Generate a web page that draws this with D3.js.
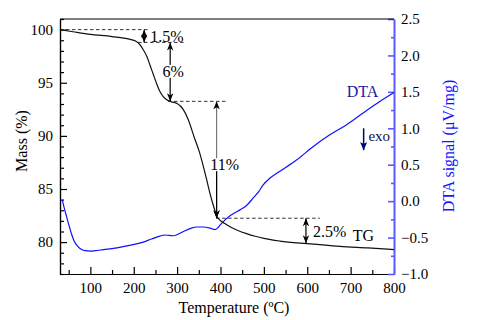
<!DOCTYPE html>
<html>
<head>
<meta charset="utf-8">
<script src="https://cdn.jsdelivr.net/npm/d3@7"></script>
<style>
  body { margin: 0; background: #fff; }
  svg { display: block; }
  svg text { font-family: "Liberation Serif", "Times New Roman", "DejaVu Serif", serif; }
</style>
</head>
<body>
<div id="chart"></div>
<script>
// TG curve (mass %) vs temperature
const tgTemp = [30, 60, 100, 150, 190, 205, 214, 222, 230, 238, 245, 252, 260, 268, 276, 287, 300, 314, 326, 340, 352, 360, 368, 375, 381, 387, 392, 398, 410, 422, 440, 460, 480, 500, 537, 600, 675, 740, 800];
const tgMass = [100, 99.8, 99.55, 99.35, 99.1, 98.9, 98.6, 98.1, 97.5, 96.6, 95.8, 95.0, 94.2, 93.7, 93.4, 93.2, 93.05, 92.5, 91.5, 89.8, 88.4, 87.2, 85.9, 84.7, 83.8, 83.0, 82.4, 82.1, 81.75, 81.45, 81.1, 80.8, 80.55, 80.35, 80.1, 79.85, 79.6, 79.45, 79.3];

// DTA signal (µV/mg) vs temperature
const dtaTemp = [35, 40, 45, 50, 56, 62, 71, 80, 88, 100, 111, 130, 157, 187, 218, 241, 260, 271, 282, 292, 310, 333, 345, 360, 376, 387, 393, 399, 410, 422, 433, 445, 460, 475, 488, 498, 515, 537, 576, 614, 652, 691, 729, 768, 800];
const dtaVal = [0.02, -0.1, -0.21, -0.32, -0.44, -0.54, -0.62, -0.665, -0.68, -0.685, -0.68, -0.665, -0.645, -0.61, -0.57, -0.52, -0.48, -0.465, -0.47, -0.475, -0.43, -0.37, -0.355, -0.355, -0.37, -0.39, -0.37, -0.33, -0.26, -0.2, -0.16, -0.12, -0.06, 0.04, 0.13, 0.22, 0.32, 0.41, 0.567, 0.75, 0.91, 1.05, 1.21, 1.37, 1.49];

// mass-loss steps: arrows and labels
const stepLabels = ["1.5%", "6%", "11%", "2.5%"];
const stepTemp = [224, 284, 391, 597];   // temperature where each arrow sits
const stepTop = [100, 98.8, 93.25, 82.25];
const stepBottom = [98.8, 93.25, 82.25, 79.9];

// dashed level lines (mass, start / end temperature)
const levelMass = [100, 98.8, 93.25, 82.25];
const levelFrom = [30, 210, 279, 390];
const levelTo = [235, 317, 414, 629];

const xTicks = [100, 200, 300, 400, 500, 600, 700, 800];
const massTicks = [80, 85, 90, 95, 100];
const dtaTicks = [-1.0, -0.5, 0.0, 0.5, 1.0, 1.5, 2.0, 2.5];

const W = 481, H = 320;
const margin = {top: 19, right: 87, bottom: 46, left: 60};
const width = W - margin.left - margin.right;
const height = H - margin.top - margin.bottom;

const svg = d3.select("#chart").append("svg")
    .attr("width", W)
    .attr("height", H);

const g = svg.append("g")
    .attr("transform", `translate(${margin.left}, ${margin.top})`);

const x = d3.scaleLinear().domain([30, 800]).range([0, width]);
const yMass = d3.scaleLinear().domain([77, 101]).range([height, 0]);
const yDta = d3.scaleLinear().domain([-1, 2.5]).range([height, 0]);

const defs = svg.append("defs");
defs.append("marker")
    .attr("id", "arr")
    .attr("viewBox", "-1 -4 10 8")
    .attr("markerUnits", "userSpaceOnUse")
    .attr("markerWidth", 10)
    .attr("markerHeight", 8)
    .attr("refX", 8)
    .attr("refY", 0)
    .attr("orient", "auto-start-reverse")
    .append("path")
    .attr("d", "M0,-3.2 L8,0 L0,3.2 L2.2,0 Z")
    .attr("fill", "#000");

defs.append("marker")
    .attr("id", "exoArr")
    .attr("viewBox", "-1 -4 10 8")
    .attr("markerUnits", "userSpaceOnUse")
    .attr("markerWidth", 10)
    .attr("markerHeight", 8)
    .attr("refX", 8)
    .attr("refY", 0)
    .attr("orient", "auto")
    .append("path")
    .attr("d", "M0,-3.5 L8,0 L0,3.5 L1.5,0 Z")
    .attr("fill", "#00007a");

// axes
g.append("g")
    .attr("transform", `translate(0, ${height})`)
    .call(d3.axisBottom(x).tickValues(xTicks).tickSize(-7).tickSizeOuter(0).tickPadding(8));
g.append("g")
    .attr("transform", `translate(0, ${height})`)
    .call(d3.axisBottom(x).tickValues(d3.range(50, 800, 100)).tickFormat("").tickSize(-4).tickSizeOuter(0));

g.append("g")
    .call(d3.axisLeft(yMass).tickValues(massTicks).tickSize(-7).tickSizeOuter(0).tickPadding(7));
g.append("g")
    .call(d3.axisLeft(yMass).tickValues(d3.range(77, 102).filter(v => v % 5 !== 0)).tickFormat("").tickSize(-4).tickSizeOuter(0));

const rightAxis = g.append("g")
    .attr("transform", `translate(${width}, 0)`)
    .call(d3.axisRight(yDta).tickValues(dtaTicks).tickFormat(d3.format(".1f")).tickSize(-6).tickSizeOuter(0).tickPadding(7));
const rightMinor = g.append("g")
    .attr("transform", `translate(${width}, 0)`)
    .call(d3.axisRight(yDta).tickValues(d3.range(-0.75, 2.5, 0.5)).tickFormat("").tickSize(-3).tickSizeOuter(0));

g.selectAll(".tick text")
    .attr("font-size", 15)
    .attr("fill", "#000");
g.selectAll(".domain, .tick line").attr("stroke", "#000").attr("stroke-width", 1.2);
rightAxis.selectAll(".domain, .tick line").attr("stroke", "#5a5aff").attr("stroke-width", 1.6);
rightMinor.selectAll(".domain, .tick line").attr("stroke", "#5a5aff").attr("stroke-width", 1.6);

// top frame
g.append("line")
    .attr("x1", 0).attr("x2", width)
    .attr("y1", 0).attr("y2", 0)
    .attr("stroke", "#000").attr("stroke-width", 1.2);

// axis titles
svg.append("text")
    .attr("x", margin.left + width / 2 + 7)
    .attr("y", 313)
    .attr("text-anchor", "middle")
    .attr("font-size", 16)
    .text("Temperature (ºC)");

svg.append("text")
    .attr("transform", "translate(21, 141) rotate(-90)")
    .attr("text-anchor", "middle")
    .attr("dy", "0.35em")
    .attr("font-size", 16)
    .text("Mass (%)");

svg.append("text")
    .attr("transform", "translate(448, 146) rotate(-90)")
    .attr("text-anchor", "middle")
    .attr("dy", "0.35em")
    .attr("font-size", 16)
    .attr("fill", "#1414ff")
    .text("DTA signal (μV/mg)");

// curves
const tgData = tgTemp.map((t, i) => ({t, v: tgMass[i]}));
const dtaData = dtaTemp.map((t, i) => ({t, v: dtaVal[i]}));

g.append("path")
    .datum(dtaData)
    .attr("fill", "none")
    .attr("stroke", "#1010ff")
    .attr("stroke-width", 1.2)
    .attr("d", d3.line().x(d => x(d.t)).y(d => yDta(d.v)).curve(d3.curveMonotoneX));

const levels = levelMass.map((v, i) => ({v, t0: levelFrom[i], t1: levelTo[i]}));
g.selectAll("line.level")
    .data(levels)
    .join("line")
    .attr("class", "level")
    .attr("x1", d => x(d.t0)).attr("x2", d => x(d.t1))
    .attr("y1", d => yMass(d.v)).attr("y2", d => yMass(d.v))
    .attr("stroke", "#333")
    .attr("stroke-width", 1)
    .attr("stroke-dasharray", "3.5 2.5");

g.append("path")
    .datum(tgData)
    .attr("fill", "none")
    .attr("stroke", "#111")
    .attr("stroke-width", 1.2)
    .attr("d", d3.line().x(d => x(d.t)).y(d => yMass(d.v)).curve(d3.curveMonotoneX));

// step arrows
const steps = stepLabels.map((s, i) => ({label: s, t: stepTemp[i], top: stepTop[i], bottom: stepBottom[i]}));

g.selectAll("line.step")
    .data(steps)
    .join("line")
    .attr("class", "step")
    .attr("x1", d => x(d.t)).attr("x2", d => x(d.t))
    .attr("y1", d => yMass(d.top)).attr("y2", d => yMass(d.bottom))
    .attr("stroke", d => d.label === "11%" ? "#777" : "#000")
    .attr("stroke-width", 1.2)
    .attr("marker-start", "url(#arr)")
    .attr("marker-end", "url(#arr)");

// black lower half of the 11% arrow
const s11 = steps[2];
g.append("line")
    .attr("x1", x(s11.t)).attr("x2", x(s11.t))
    .attr("y1", yMass((s11.top + s11.bottom) / 2)).attr("y2", yMass(s11.bottom))
    .attr("stroke", "#000")
    .attr("stroke-width", 1.2)
    .attr("marker-end", "url(#arr)");

// step labels
const labelPos = [
    {dx: 6, y: 99.35, anchor: "start", bg: false},
    {dx: 3, y: 96.08, anchor: "middle", bg: true},
    {dx: 8, y: 87.3, anchor: "middle", bg: true},
    {dx: 7, y: 81.0, anchor: "start", bg: false}
];
steps.forEach((d, i) => {
    const p = labelPos[i];
    const txt = g.append("text")
        .attr("x", x(d.t) + p.dx)
        .attr("y", yMass(p.y))
        .attr("dy", "0.35em")
        .attr("text-anchor", p.anchor)
        .attr("font-size", 16)
        .text(d.label);
    if (p.bg) {
        const bb = txt.node().getBBox();
        g.insert("rect", () => txt.node())
            .attr("x", bb.x).attr("y", bb.y + 2)
            .attr("width", bb.width).attr("height", bb.height - 4)
            .attr("fill", "#fff");
    }
});

// series labels
g.append("text")
    .attr("x", x(705))
    .attr("y", yMass(80.6))
    .attr("dy", "0.35em")
    .attr("font-size", 16)
    .text("TG");

g.append("text")
    .attr("x", x(691))
    .attr("y", yDta(1.5))
    .attr("dy", "0.35em")
    .attr("font-size", 16)
    .attr("fill", "#1a1aa0")
    .text("DTA");

// exo marker
g.append("line")
    .attr("x1", x(730)).attr("x2", x(730))
    .attr("y1", yDta(1.0)).attr("y2", yDta(0.7))
    .attr("stroke", "#00007a")
    .attr("stroke-width", 1.5)
    .attr("marker-end", "url(#exoArr)");

g.append("text")
    .attr("x", x(741))
    .attr("y", yDta(0.9))
    .attr("dy", "0.35em")
    .attr("font-size", 15)
    .attr("fill", "#10104a")
    .text("exo");
</script>
</body>
</html>
